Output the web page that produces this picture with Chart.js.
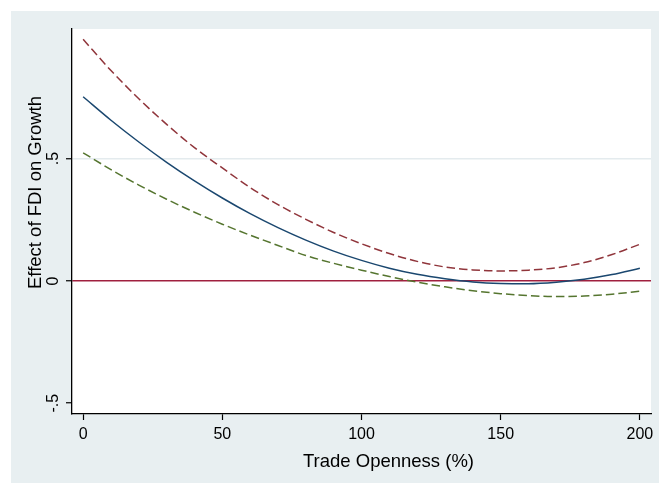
<!DOCTYPE html>
<html>
<head>
<meta charset="utf-8">
<script src="https://cdn.jsdelivr.net/npm/chart.js@4/dist/chart.umd.min.js"></script>
<style>
  html, body { margin: 0; padding: 0; background: #ffffff; }
  #wrap { width: 659px; height: 483px; position: relative; }
</style>
</head>
<body>
<div id="wrap"><canvas id="c" width="659" height="483"></canvas></div>
<script>
// Trade openness (%) sample points
const tradeOpenness = [0, 10, 20, 30, 40, 50, 60, 70, 80, 90, 100, 110, 120, 130, 140, 150, 160, 170, 180, 190, 200];
// Marginal effect of FDI on growth
const effect = [0.753, 0.657, 0.568, 0.485, 0.409, 0.339, 0.275, 0.218, 0.167, 0.122, 0.084, 0.052, 0.027, 0.009, -0.004, -0.010, -0.011, -0.005, 0.007, 0.026, 0.052];
// Upper confidence bound
const upperBound = [0.988, 0.860, 0.745, 0.640, 0.545, 0.462, 0.382, 0.312, 0.252, 0.198, 0.152, 0.112, 0.080, 0.057, 0.045, 0.041, 0.044, 0.054, 0.075, 0.108, 0.150];
// Lower confidence bound
const lowerBound = [0.524, 0.455, 0.392, 0.334, 0.281, 0.232, 0.187, 0.145, 0.104, 0.072, 0.044, 0.018, -0.005, -0.024, -0.040, -0.052, -0.060, -0.064, -0.062, -0.054, -0.042];

const xTicks = [0, 50, 100, 150, 200];
const yTicks = [-0.5, 0, 0.5];
const yTickLabels = ['-.5', '0', '.5'];
const xTitle = 'Trade Openness (%)';
const yTitle = 'Effect of FDI on Growth';

const FONT = "'Liberation Sans', Arial, Helvetica, sans-serif";
const BG = '#e8eff1';

const pts = arr => tradeOpenness.map((x, i) => ({ x: x, y: arr[i] }));

const bgPlugin = {
  id: 'bg',
  beforeDraw(chart) {
    const ctx = chart.ctx;
    const a = chart.chartArea;
    ctx.save();
    ctx.fillStyle = '#ffffff';
    ctx.fillRect(0, 0, chart.width, chart.height);
    ctx.fillStyle = BG;
    ctx.fillRect(11, 11, chart.width - 11, chart.height - 11);
    ctx.fillStyle = '#ffffff';
    ctx.fillRect(a.left, a.top, a.right - a.left, a.bottom - a.top);
    ctx.restore();
  }
};

const titlePlugin = {
  id: 'axisTitles',
  afterDraw(chart) {
    const ctx = chart.ctx;
    const a = chart.chartArea;
    ctx.save();
    ctx.fillStyle = '#000000';
    ctx.font = '18.5px ' + FONT;
    ctx.textAlign = 'center';
    ctx.textBaseline = 'middle';
    // x axis title
    ctx.fillText(xTitle, (a.left + a.right) / 2 + 27, a.bottom + 48);
    // y axis title (rotated)
    ctx.translate(36, (a.top + a.bottom) / 2 - 29);
    ctx.rotate(-Math.PI / 2);
    ctx.fillText(yTitle, 0, 0);
    ctx.restore();
  }
};

new Chart(document.getElementById('c'), {
  type: 'line',
  data: {
    datasets: [
      {
        label: 'Upper bound',
        data: pts(upperBound),
        borderColor: '#90353b',
        borderWidth: 1.5,
        borderDash: [8.5, 4],
        pointRadius: 0,
        cubicInterpolationMode: 'monotone',
        fill: false
      },
      {
        label: 'Effect',
        data: pts(effect),
        borderColor: '#1a476f',
        borderWidth: 1.5,
        pointRadius: 0,
        cubicInterpolationMode: 'monotone',
        fill: false
      },
      {
        label: 'Lower bound',
        data: pts(lowerBound),
        borderColor: '#55752f',
        borderWidth: 1.5,
        borderDash: [8.5, 4],
        pointRadius: 0,
        cubicInterpolationMode: 'monotone',
        fill: false
      }
    ]
  },
  options: {
    responsive: false,
    animation: false,
    devicePixelRatio: 1,
    layout: { padding: { left: 0, right: 8, top: 29, bottom: 0 } },
    plugins: {
      legend: { display: false },
      tooltip: { enabled: false }
    },
    scales: {
      x: {
        type: 'linear',
        min: -4,
        max: 204,
        afterBuildTicks(scale) { scale.ticks = xTicks.map(v => ({ value: v })); },
        afterFit(scale) { scale.height = 69; },
        ticks: {
          color: '#000000',
          font: { family: FONT, size: 16 },
          padding: 5,
          maxRotation: 0,
          callback: v => String(v)
        },
        grid: {
          drawOnChartArea: false,
          drawTicks: true,
          tickLength: 6,
          tickColor: '#000000',
          tickWidth: 1.2
        },
        border: { color: '#000000', width: 1.3 },
        title: { display: false }
      },
      y: {
        type: 'linear',
        min: -0.544,
        max: 1.03,
        afterBuildTicks(scale) { scale.ticks = yTicks.map(v => ({ value: v })); },
        afterFit(scale) { scale.width = 72; },
        ticks: {
          color: '#000000',
          font: { family: FONT, size: 16 },
          padding: 3,
          minRotation: 90,
          maxRotation: 90,
          crossAlign: 'center',
          callback: v => yTickLabels[yTicks.indexOf(v)]
        },
        grid: {
          drawTicks: true,
          tickLength: 6,
          tickColor: '#000000',
          tickWidth: 1.2,
          color: ctx => {
            const v = ctx.tick ? ctx.tick.value : null;
            if (v === 0) return '#a0203f';
            if (v === 0.5) return '#e4ebee';
            return 'rgba(0,0,0,0)';
          },
          lineWidth: 1.5
        },
        border: { color: '#000000', width: 1.3 },
        title: { display: false }
      }
    }
  },
  plugins: [bgPlugin, titlePlugin]
});
</script>
</body>
</html>
